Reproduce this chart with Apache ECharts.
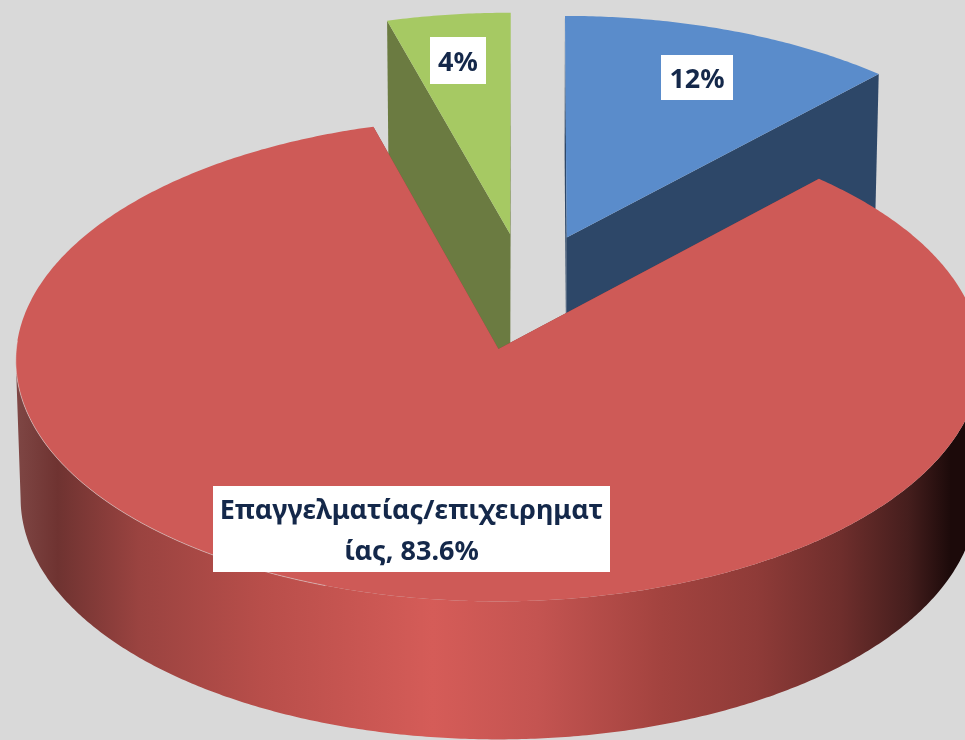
<!DOCTYPE html>
<html>
<head>
<meta charset="utf-8">
<style>html,body{margin:0;padding:0;background:#d9d9d9}#c{width:965px;height:740px}</style>
<script src="https://cdn.jsdelivr.net/npm/echarts@6/dist/echarts.min.js"></script>
</head>
<body>
<div id="c"></div>
<script>
// Data, clockwise from twelve o'clock
const categories = ['Α', 'Επαγγελματίας/επιχειρηματίας', 'Β'];
const values = [12, 83.6, 4.4];
const labelTexts = ['12%', 'Επαγγελματίας/επιχειρηματ\nίας, 83.6%', '4%'];

// Appearance
const topColors = ['#5a8ccb', '#ce5a57', '#a6c963'];
const wallColors = ['#2d4768', '#8f3d3a', '#6b7b41'];
const labelBoxes = [
  { x: 661, y: 55, w: 72, h: 45 },
  { x: 213, y: 486, w: 397, h: 86 },
  { x: 430, y: 37, w: 56, h: 47 }
];

// View model of the tilted, exploded pie
const view = { ox: 525.5, oy: 291.5, rx: 477, ry: 236, k: 0.044, taper: 0.0095, depth: 138, ex: 0.237, ez: 0.2485 };
const total = values.reduce((a, b) => a + b, 0);

function project(X, Z, low) {
  const d = 1 + view.k * Z;
  const t = low ? 1 + view.taper : 1;
  return [view.ox + view.rx * X / (d * t), view.oy - view.ry * Z / d + (low ? view.depth : 0)];
}
function rad(deg) { return deg * Math.PI / 180; }

function sliceAngles(i) {
  let sum = 0;
  for (let j = 0; j < i; j++) sum += values[j];
  return [sum / total * 360, (sum + values[i]) / total * 360];
}

const wallGradient = new echarts.graphic.LinearGradient(15, 0, 965, 0, [
  { offset: 0, color: '#7f4745' },
  { offset: 0.045, color: '#6f3331' },
  { offset: 0.13, color: '#9a4340' },
  { offset: 0.26, color: '#b84e4a' },
  { offset: 0.44, color: '#d55c58' },
  { offset: 0.55, color: '#c45451' },
  { offset: 0.68, color: '#a3433f' },
  { offset: 0.78, color: '#8f3b38' },
  { offset: 0.87, color: '#6e2e2c' },
  { offset: 0.94, color: '#451e1d' },
  { offset: 0.985, color: '#1c0a0a' },
  { offset: 1, color: '#1c0a0a' }
], true);

function renderSlice(params, api) {
  const i = params.dataIndex;
  const [a0, a1] = sliceAngles(i);
  const mid = rad((a0 + a1) / 2);
  const cx = Math.sin(mid) * view.ex;
  const cz = Math.cos(mid) * view.ez;
  const rim = (deg) => [cx + Math.sin(rad(deg)), cz + Math.cos(rad(deg))];
  const at = (deg, low) => { const r = rim(deg); return project(r[0], r[1], low); };
  const children = [];
  const front = a0 < 180 && a1 > 180;

  const wall = (deg, fill) => ({
    type: 'polygon',
    shape: { points: [project(cx, cz), at(deg), at(deg, true), project(cx, cz, true)] },
    style: { fill: fill }
  });
  children.push(wall(a0, wallColors[i]), wall(a1, wallColors[i]));

  if (front) {
    // outer wall runs between the rim's two horizontal extremes
    let lo = a0, hi = a1;
    for (let d = a0; d <= a1; d += 0.5) {
      if (at(d)[0] > at(lo)[0]) lo = d;
      if (at(d)[0] < at(hi)[0]) hi = d;
    }
    const pts = [];
    for (let d = lo; d <= hi; d += 0.5) pts.push(at(d));
    for (let d = hi; d >= lo; d -= 0.5) pts.push(at(d, true));
    children.push({ type: 'polygon', shape: { points: pts }, style: { fill: wallGradient } });
  }

  const top = [project(cx, cz)];
  for (let d = a0; d < a1; d += 0.5) top.push(at(d));
  top.push(at(a1));
  children.push({ type: 'polygon', shape: { points: top }, style: { fill: topColors[i] } });

  if (front) {
    const edge = [];
    for (let d = 200; d <= 272; d += 0.5) edge.push(at(d));
    children.push({ type: 'polyline', shape: { points: edge }, style: { fill: null, stroke: 'rgba(225,225,225,0.7)', lineWidth: 0.7 } });
  }

  const b = labelBoxes[i];
  children.push({ type: 'rect', shape: { x: b.x, y: b.y, width: b.w, height: b.h }, style: { fill: '#ffffff' } });
  children.push({
    type: 'text',
    style: {
      text: labelTexts[i], x: b.x + b.w / 2, y: b.y + b.h / 2 + 3,
      align: 'center', verticalAlign: 'middle',
      font: 'bold 27px "Noto Sans"', lineHeight: 41, fill: '#14284a'
    }
  });
  const z = front ? 5 : 1;
  return { type: 'group', children: children.map((c, n) => Object.assign({ z2: z + n * 0.01 }, c)) };
}

const chart = echarts.init(document.getElementById('c'), null, { renderer: 'canvas' });
chart.setOption({
  backgroundColor: '#d9d9d9',
  animation: false,
  tooltip: { show: false },
  series: [{
    type: 'custom',
    coordinateSystem: 'none',
    silent: true,
    renderItem: renderSlice,
    data: values.map((v, i) => ({ name: categories[i], value: [v] }))
  }]
});
</script>
</body>
</html>
